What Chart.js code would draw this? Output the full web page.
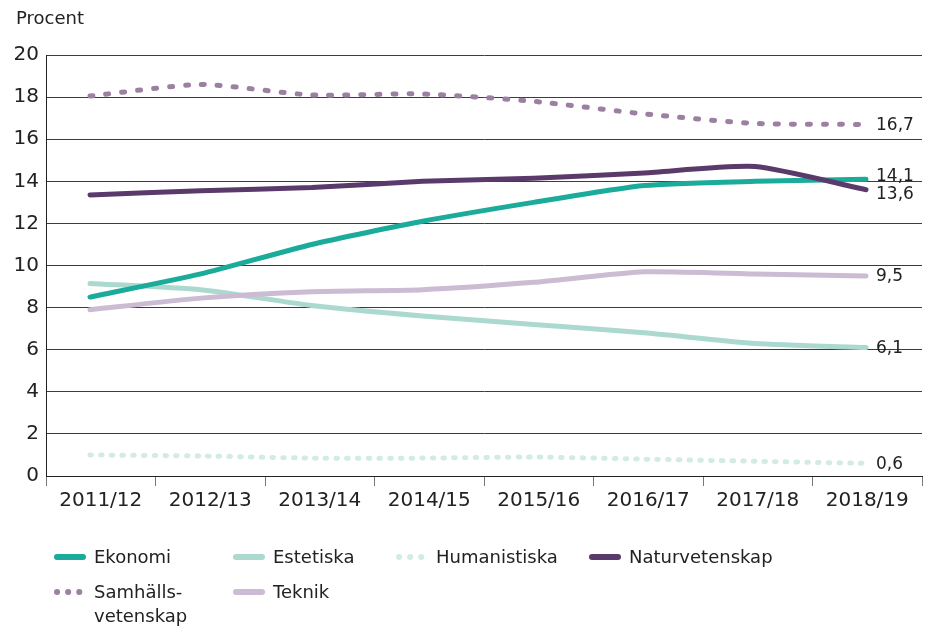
<!DOCTYPE html>
<html>
<head>
<meta charset="utf-8">
<script src="https://cdn.jsdelivr.net/npm/chart.js@4"></script>
<style>
  html, body { margin: 0; padding: 0; background: #fff; }
  #wrap { position: relative; width: 930px; height: 628px; font-family: "DejaVu Sans", sans-serif; color: #222; }
  #title { position: absolute; left: 16px; top: 7px; font-size: 18px; }
  .leg { position: absolute; display: flex; align-items: flex-start; font-size: 18px; line-height: 24px; }
  .leg svg { margin-right: 8px; flex: none; }
</style>
</head>
<body>
<div id="wrap">
  <canvas id="chart" width="930" height="628"></canvas>
  <div id="title">Procent</div>
  <div id="legend"></div>
</div>
<script>
// Chart data
const categories = ["2011/12", "2012/13", "2013/14", "2014/15", "2015/16", "2016/17", "2017/18", "2018/19"];
const ekonomi = [8.5, 9.6, 11.0, 12.1, 13.0, 13.8, 14.0, 14.1];
const estetiska = [9.15, 8.85, 8.1, 7.6, 7.2, 6.8, 6.3, 6.1];
const humanistiska = [1.0, 0.95, 0.85, 0.85, 0.9, 0.8, 0.7, 0.6];
const naturvetenskap = [13.35, 13.55, 13.7, 14.0, 14.15, 14.4, 14.7, 13.6];
const samhallsvetenskap = [18.05, 18.6, 18.1, 18.15, 17.8, 17.2, 16.75, 16.7];
const teknik = [7.9, 8.45, 8.75, 8.85, 9.2, 9.7, 9.6, 9.5];
const yTicks = [0, 2, 4, 6, 8, 10, 12, 14, 16, 18, 20];

const series = [
  { name: "Ekonomi", legend: ["Ekonomi"], values: ekonomi, color: "#1aab9b", dotted: false },
  { name: "Estetiska", legend: ["Estetiska"], values: estetiska, color: "#abd9d0", dotted: false },
  { name: "Humanistiska", legend: ["Humanistiska"], values: humanistiska, color: "#d3ebe5", dotted: true },
  { name: "Naturvetenskap", legend: ["Naturvetenskap"], values: naturvetenskap, color: "#5a396b", dotted: false },
  { name: "Samhällsvetenskap", legend: ["Samhälls-", "vetenskap"], values: samhallsvetenskap, color: "#9c80a1", dotted: true },
  { name: "Teknik", legend: ["Teknik"], values: teknik, color: "#cbbbd3", dotted: false },
];

// legend layout (left, top of each item)
const legendPos = [[54, 545], [233, 545], [396, 545], [589, 545], [54, 580], [233, 580]];

const fmt = (v) => v.toFixed(1).replace(".", ",");

// end-of-line value labels, pushed apart when they collide
const endLabels = {
  id: "endLabels",
  afterDatasetsDraw(chart) {
    const ctx = chart.ctx;
    const items = chart.data.datasets.map((ds, i) => {
      const pts = chart.getDatasetMeta(i).data;
      const p = pts[pts.length - 1];
      return { x: p.x, y: p.y, text: fmt(ds.data[ds.data.length - 1].y) };
    });
    items.sort((a, b) => a.y - b.y);
    const gap = 18;
    for (let i = 1; i < items.length; i++) {
      const d = items[i].y - items[i - 1].y;
      if (d < gap) {
        const shift = (gap - d) / 2;
        items[i - 1].y -= shift;
        items[i].y += shift;
      }
    }
    ctx.save();
    ctx.font = "17px 'DejaVu Sans'";
    ctx.fillStyle = "#222";
    ctx.textAlign = "left";
    ctx.textBaseline = "middle";
    items.forEach((it) => ctx.fillText(it.text, it.x + 10, it.y + 1));
    ctx.restore();
  },
};

const datasets = series.map((s, i) => ({
  label: s.name,
  data: s.values.map((v, k) => ({ x: k, y: v })),
  xAxisID: "xd",
  borderColor: s.color,
  backgroundColor: s.color,
  borderWidth: 5,
  borderDash: s.dotted ? (s.name === "Humanistiska" ? [1.5, 9.2] : [3, 13]) : [],
  borderCapStyle: "round",
  borderJoinStyle: "round",
  pointRadius: 0,
  tension: 0.2,
  order: [4, 5, 6, 1, 2, 3][i],
}));

new Chart(document.getElementById("chart"), {
  type: "line",
  data: { labels: categories, datasets: datasets },
  options: {
    responsive: false,
    animation: false,
    layout: { padding: { top: 55, left: 0, right: 8, bottom: 112 } },
    plugins: { legend: { display: false }, tooltip: { enabled: false } },
    scales: {
      x: {
        type: "category",
        bounds: "ticks",
        offset: true,
        grid: { offset: true, drawOnChartArea: false, drawTicks: true, tickLength: 10, color: "#777" },
        border: { display: true, color: "#222" },
        ticks: { font: { family: "DejaVu Sans", size: 20 }, color: "#222", padding: 3, maxRotation: 0, autoSkip: false },
        afterFit: (s) => { s.height = 40; },
      },
      xd: {
        type: "linear",
        display: false,
        min: -0.397,
        max: 7.505,
      },
      y: {
        min: 0,
        max: 20,
        afterBuildTicks: (s) => { s.ticks = yTicks.map((v) => ({ value: v })); },
        grid: { drawTicks: false, color: "#3c3c3c" },
        border: { display: true, color: "#222" },
        ticks: { font: { family: "DejaVu Sans", size: 20 }, color: "#222", padding: 7 },
        afterFit: (s) => { s.width = 46; },
      },
    },
  },
  plugins: [endLabels],
});

// HTML legend
const legendEl = document.getElementById("legend");
series.forEach((s, i) => {
  const item = document.createElement("div");
  item.className = "leg";
  item.style.left = legendPos[i][0] + "px";
  item.style.top = legendPos[i][1] + "px";
  const dash = s.dotted ? 'stroke-dasharray="0.1 11"' : "";
  item.innerHTML =
    `<svg width="32" height="24"><line x1="3" y1="12" x2="29" y2="12" stroke="${s.color}" stroke-width="6" stroke-linecap="round" ${dash}/></svg>` +
    `<div>${s.legend.join("<br>")}</div>`;
  legendEl.appendChild(item);
});
</script>
</body>
</html>
